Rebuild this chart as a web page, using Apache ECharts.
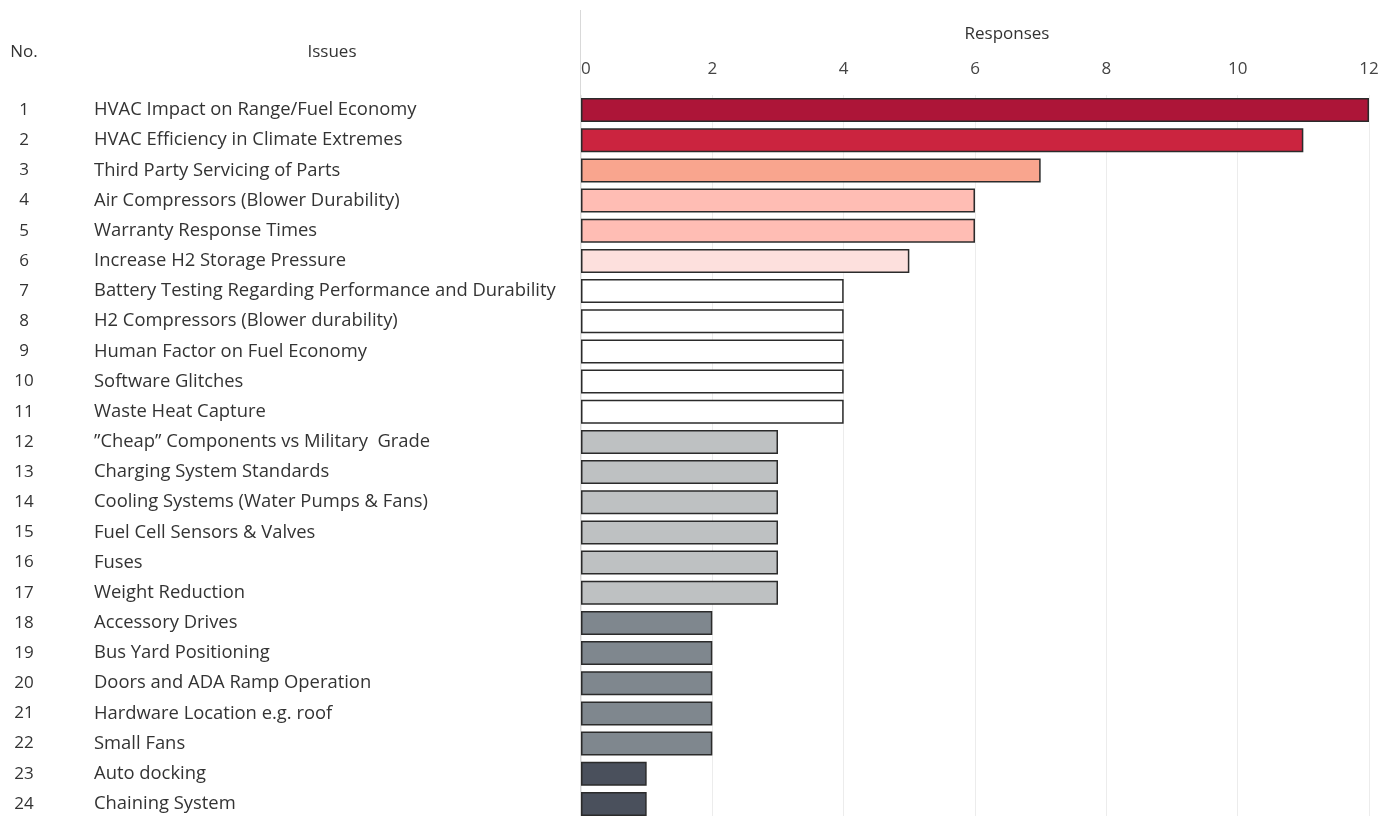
<!DOCTYPE html>
<html>
<head>
<meta charset="utf-8">
<script src="https://cdn.jsdelivr.net/npm/echarts@6/dist/echarts.min.js"></script>
<style>
  html, body { margin: 0; padding: 0; background: #fff; overflow: hidden; }
  #chart { width: 1397px; height: 830px; }
</style>
</head>
<body>
<div id="chart"></div>
<script>
const numbers = ["1","2","3","4","5","6","7","8","9","10","11","12","13","14","15","16","17","18","19","20","21","22","23","24"];
const issues = [
  "HVAC Impact on Range/Fuel Economy",
  "HVAC Efficiency in Climate Extremes",
  "Third Party Servicing of Parts",
  "Air Compressors (Blower Durability)",
  "Warranty Response Times",
  "Increase H2 Storage Pressure",
  "Battery Testing Regarding Performance and Durability",
  "H2 Compressors (Blower durability)",
  "Human Factor on Fuel Economy",
  "Software Glitches",
  "Waste Heat Capture",
  "\u201dCheap\u201d Components vs Military  Grade",
  "Charging System Standards",
  "Cooling Systems (Water Pumps & Fans)",
  "Fuel Cell Sensors & Valves",
  "Fuses",
  "Weight Reduction",
  "Accessory Drives",
  "Bus Yard Positioning",
  "Doors and ADA Ramp Operation",
  "Hardware Location e.g. roof",
  "Small Fans",
  "Auto docking",
  "Chaining System"
];
const responses = [12, 11, 7, 6, 6, 5, 4, 4, 4, 4, 4, 3, 3, 3, 3, 3, 3, 2, 2, 2, 2, 2, 1, 1];
const barColors = [
  "#ad1538", "#cb243f", "#f9a58e", "#ffbdb4", "#ffbdb4", "#fde0dd",
  "#ffffff", "#ffffff", "#ffffff", "#ffffff", "#ffffff",
  "#bec1c2", "#bec1c2", "#bec1c2", "#bec1c2", "#bec1c2", "#bec1c2",
  "#7f878e", "#7f878e", "#7f878e", "#7f878e", "#7f878e",
  "#4a505c", "#4a505c"
];

const font = "'Open Sans'";
const chart = echarts.init(document.getElementById("chart"));

chart.setOption({
  backgroundColor: "#ffffff",
  animation: false,
  grid: { left: 581, right: 28, top: 95, height: 724 },
  graphic: [
    { type: "line", shape: { x1: 580.5, y1: 10, x2: 580.5, y2: 830 }, style: { stroke: "#d9d9d9", lineWidth: 1 } },
    { type: "text", x: 24, y: 52, style: { text: "No.", font: "17px " + font, fill: "#333", align: "center", verticalAlign: "middle" } },
    { type: "text", x: 332, y: 52, style: { text: "Issues", font: "17px " + font, fill: "#333", align: "center", verticalAlign: "middle" } }
  ],
  xAxis: {
    type: "value",
    position: "top",
    min: 0,
    max: 12,
    interval: 2,
    name: "Responses",
    nameLocation: "middle",
    nameGap: 52,
    nameTextStyle: { fontFamily: font, fontSize: 17, color: "#333", padding: [0, 0, 0, 64] },
    axisLine: { show: false },
    axisTick: { show: false },
    axisLabel: { fontFamily: font, fontSize: 17, color: "#444", margin: 17, alignMinLabel: "left" },
    splitLine: { show: true, lineStyle: { color: "#ececec", width: 1 } }
  },
  yAxis: [
    {
      type: "category",
      data: numbers,
      inverse: true,
      position: "left",
      axisLine: { show: false },
      axisTick: { show: false },
      axisLabel: { fontFamily: font, fontSize: 17, color: "#333", align: "center", margin: 557, padding: [3, 0, 0, 0] }
    },
    {
      type: "category",
      data: issues,
      inverse: true,
      position: "left",
      axisLine: { show: false },
      axisTick: { show: false },
      axisLabel: { fontFamily: font, fontSize: 18.4, color: "#333", align: "left", margin: 487, padding: [3, 0, 0, 0] }
    }
  ],
  series: [
    {
      type: "bar",
      yAxisIndex: 0,
      barWidth: 24,
      data: responses.map((v, i) => ({
        value: v,
        itemStyle: { color: barColors[i], borderColor: "#2b2b2b", borderWidth: 1.5 }
      }))
    }
  ]
});
</script>
</body>
</html>
